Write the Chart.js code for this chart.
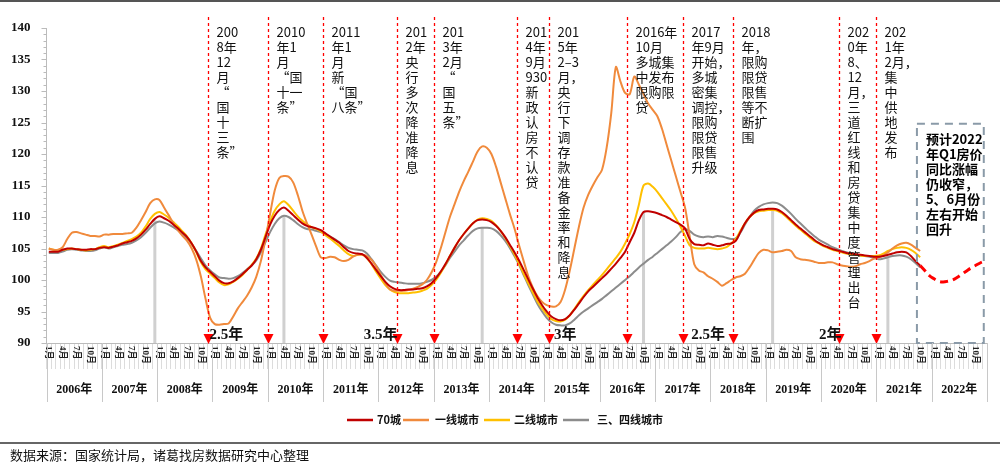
<!DOCTYPE html>
<html><head><meta charset="utf-8">
<script src="https://cdn.jsdelivr.net/npm/chart.js@4.4.1/dist/chart.umd.min.js"></script>
<style>html,body{margin:0;padding:0;background:#fff}canvas{display:block}</style>
</head><body>
<canvas id="c" width="1000" height="469"></canvas>
<script>
const years=[2006,2007,2008,2009,2010,2011,2012,2013,2014,2015,2016,2017,2018,2019,2020,2021,2022];
const yTicks=[90,95,100,105,110,115,120,125,130,135,140];
const monthTicks=[1,4,7,10];
const s70=[
104.5,104.5,104.5,104.8,105,105,104.9,104.8,104.8,104.9,104.9,105.1,
105.2,105.1,105.3,105.5,105.8,106,106.2,106.6,107.2,108,108.9,109.7,
110.1,109.8,109.4,108.8,108.2,107.5,106.8,105.8,104.5,103,102,101.3,
100.6,99.9,99.5,99.5,99.8,100.3,100.9,101.6,102.3,103.3,104.8,106.8,
108.8,110.2,111.1,111.5,111,110.3,109.6,109,108.6,108.4,108.2,107.9,
107.4,106.9,106.4,105.9,105.2,104.6,104.3,104.2,104.1,103.5,102.6,101.6,
100.6,99.7,99,98.6,98.4,98.4,98.5,98.5,98.6,98.7,99,99.5,
100.3,101.3,102.5,103.8,105.1,106.3,107.3,108.2,109,109.5,109.6,109.5,
109.2,108.6,107.8,106.8,105.6,104.4,103.1,101.6,100.1,98.6,97.2,96,
95,94.2,93.8,93.6,93.8,94.4,95.3,96.3,97.3,98.2,98.9,99.6,
100.3,101,101.8,102.6,103.5,104.5,106,107.5,109.5,110.8,110.9,110.8,
110.6,110.3,110,109.6,109.2,108.8,108.2,106.5,105.7,105.6,105.5,105.8,
105.6,105.4,105.5,105.7,105.8,106.2,107.6,109,110,110.7,111.1,111.2,
111.3,111.3,111.2,110.8,110.2,109.5,108.8,108.2,107.6,107,106.4,105.9,
105.5,105.2,104.9,104.7,104.5,104.3,104.2,104.1,104,103.9,103.8,103.7,
103.7,103.8,104,104.2,104.4,104.5,104.4,103.8,103,102.3];
const sTier1=[
105,104.8,104.8,105.2,106.5,107.5,107.6,107.4,107.2,107,107,106.9,
107.2,107.2,107.3,107.3,107.3,107.4,107.5,108.3,109.5,110.8,112.2,112.8,
112.7,111.5,110.3,109,107.9,107,106.2,105,103.2,100.5,97,94,
93,92.9,93,93.1,94.2,95.5,96.5,97.5,98.8,100.5,103,106.5,
110.5,114.2,116.2,116.5,116.4,115.5,113.5,111,109,107.2,105.3,103.6,
103.5,103.7,103.6,103.2,103,103.2,103.7,104,104,103.8,103.2,102.2,
100.8,99.5,98.5,98.3,98.3,98.3,98.4,98.6,98.9,99.3,100,101.2,
102.8,105,107.5,110,112,114,115.7,117.2,118.8,120.4,121.2,121,
120,118,115.5,113,110.5,108.2,105.5,103,100.6,98.8,97.4,96.5,
96,95.8,95.8,96.5,98.5,101.5,105,108.5,111.5,113.5,115,116.3,
117.5,121,126.5,133.8,131.5,129.7,129.5,132.3,131,129.5,128,127,
126,124,121.5,119,116.5,114,111.5,107,102.5,101.5,101.2,100.6,
100.2,99.7,99.1,99.5,100,100.4,100.6,101,102,103.2,104.3,104.8,
104.7,104.4,104.5,104.6,104.8,104.6,103.6,103.3,103.2,103.1,102.9,102.7,
102.7,102.8,102.8,102.5,102.3,102.2,102.1,102.2,102.5,102.7,103,103.4,
103.6,103.9,104.4,105,105.5,105.8,105.9,105.6,105.1,104.6];
const sTier2=[
105,104.8,104.7,104.8,104.9,105,104.9,104.8,104.7,104.8,104.9,105.2,
105.4,105.2,105.4,105.6,105.9,106.2,106.5,106.9,107.5,108.5,109.7,110.5,
110.8,110.4,109.9,109.2,108.5,107.7,106.9,105.8,104.4,102.8,101.7,101,
100.3,99.6,99.2,99.3,99.7,100.2,100.8,101.6,102.4,103.4,105,107.2,
109.3,111,112,112.5,111.9,111,110.1,109.4,108.8,108.4,108.1,107.7,
107.1,106.6,106,105.4,104.7,104.1,103.8,104,104,103.5,102.5,101.3,
100.2,99.2,98.5,98.1,97.9,97.9,97.9,98,98.1,98.3,98.6,99.2,
100,101.1,102.4,103.8,105.1,106.3,107.3,108.2,109,109.6,109.8,109.7,
109.4,108.7,107.8,106.7,105.4,104.1,102.6,101,99.5,98,96.6,95.5,
94.5,93.8,93.5,93.4,93.7,94.4,95.4,96.5,97.5,98.4,99.2,100,
100.8,101.7,102.6,103.5,104.5,105.8,107.3,109.2,112,115,115.3,114.8,
114,113,112,111,109.8,108.5,107,105.5,105.1,105,105,105.1,
105,104.9,105,105.2,105.8,106.5,107.8,109,110,110.6,110.9,111,
111.1,111.1,111,110.6,110,109.3,108.6,108,107.4,106.8,106.2,105.8,
105.4,105.1,104.8,104.6,104.4,104.2,104.1,104,103.9,103.8,103.8,103.8,
103.9,104.2,104.6,104.9,105.1,105.2,105.1,104.8,104.3,103.6];
const sTier34=[
104.3,104.3,104.3,104.5,104.8,104.9,104.8,104.7,104.6,104.6,104.7,105,
105.2,105,105.2,105.4,105.6,105.7,105.9,106.3,106.8,107.5,108.3,109,
109.3,109.1,108.8,108.4,107.9,107.3,106.6,105.7,104.6,103.4,102.3,101.5,
100.9,100.4,100.3,100.2,100.3,100.6,101.1,101.7,102.3,103.1,104.4,106,
107.6,108.9,109.8,110.2,110,109.5,108.9,108.4,108.1,108,107.8,107.6,
107.3,106.9,106.5,106,105.5,105.1,104.9,104.8,104.7,104.2,103.3,102.3,
101.3,100.5,99.9,99.7,99.6,99.5,99.4,99.4,99.4,99.5,99.7,100,
100.5,101.3,102.3,103.5,104.5,105.5,106.3,107.1,107.8,108.2,108.3,108.3,
108.2,107.8,107.1,106.2,105.1,103.8,102.4,100.8,99.2,97.7,96.2,95,
94,93.3,92.9,92.8,92.8,93.1,93.7,94.4,95,95.5,96,96.5,
97,97.6,98.2,98.8,99.4,100,100.6,101.3,102,102.6,103.2,103.7,
104.3,104.9,105.5,106.1,106.8,107.6,108.1,107.8,107.2,106.9,106.8,106.9,
106.8,107,106.9,106.7,106.5,106.6,107.5,108.8,110,111,111.6,112,
112.2,112.3,112.2,111.8,111.2,110.5,109.7,109,108.3,107.6,107,106.4,
106,105.6,105.2,104.9,104.6,104.4,104.2,104,103.9,103.8,103.7,103.5,
103.3,103.4,103.6,103.8,103.9,103.9,103.7,103.3,102.7,102];
const forecast=[102.3,101.5,100.7,100.2,99.8,99.7,99.8,100,100.4,100.9,101.4,101.9,102.3,102.7,103.0];
const forecastStart=189;
const seriesNames=['70城','一线城市','二线城市','三、四线城市'];
const seriesColors=['#c00000','#f08a3c','#ffc000','#8c8c8c'];
const eventIdx=[34.5,47.5,59.5,75.5,83.5,101.5,108.5,125.5,137.5,148.5,171.5,179.5];
const eventText=[
["200","8年","12","月","“","国","十","三","条”"],
["2010","年1","月","“国","十一","条”"],
["2011","年1","月","新","“国","八条”"],
["201","2年","央","行","多","次","降","准","降","息"],
["201","3年","2月","“","国","五","条”"],
["201","4年","9月","930","新","政","认","房","不","认","贷"],
["201","5年","2–3","月，","央","行","下","调","存","款","准","备","金","率","和","降","息"],
["2016年","10月","多城集","中发布","限购限","贷"],
["2017","年9月","开始，","多城","密集","调控，","限购","限贷","限售","升级"],
["2018","年，","限购","限贷","限售","等不","断扩","围"],
["202","0年","8、","12","月，","三","道","红","线","和","房","贷","集","中","度","管","理","出","台"],
["202","1年","2月，","集","中","供","地","发","布"]];
const peakIdx=[23,51,94,129,157,182];
const peakVal=[109.5,110.2,108.3,110.8,111.4,103.9];
const cycleIdx=[38.5,72,112,143,169.5];
const cycleText=['2.5年','3.5年','3年','2.5年','2年'];
const forecastNote=["预计2022","年Q1房价","同比涨幅","仍收窄，","5、6月份","左右开始","回升"];

const labels=[];years.forEach(y=>{for(let m=1;m<=12;m++)labels.push(y+'-'+m);});
const fc=new Array(forecastStart).fill(null).concat(forecast);
const allSeries=[s70,sTier1,sTier2,sTier34];
const datasets=allSeries.map((d,i)=>({label:seriesNames[i],data:d,borderColor:seriesColors[i],borderWidth:2,pointRadius:0,tension:0.3,fill:false,order:i}));
datasets.push({label:'预测',data:fc,borderColor:'#ff0000',borderWidth:3,borderDash:[8,5],pointRadius:0,tension:0.4,fill:false,order:0});

const overlay={id:'overlay',
beforeDatasetsDraw(ch){const c=ch.ctx,x=ch.scales.x,y=ch.scales.y;
  c.save();c.strokeStyle='#d0d0d0';c.lineWidth=3;
  peakIdx.forEach((p,i)=>{const px=x.getPixelForValue(p);c.beginPath();c.moveTo(px,y.bottom);c.lineTo(px,y.getPixelForValue(peakVal[i]));c.stroke();});
  c.restore();},
afterDraw(ch){const c=ch.ctx,x=ch.scales.x,y=ch.scales.y,a=ch.chartArea;
  c.save();
  c.strokeStyle='#bbb';c.lineWidth=1;
  for(let v=90;v<=140;v++){const py=Math.round(y.getPixelForValue(v))+0.5;c.beginPath();c.moveTo(a.left-(v%5===0?5:3),py);c.lineTo(a.left,py);c.stroke();}
  // month labels
  c.fillStyle='#222';c.font='bold 9px "Liberation Serif","Noto Sans CJK SC"';c.textAlign='left';c.textBaseline='middle';
  labels.forEach((l,i)=>{const m=i%12+1;if(!monthTicks.includes(m))return;const px=x.getPixelForValue(i);
    c.save();c.translate(px,a.bottom+3);c.rotate(Math.PI/2);c.fillText(m+'月',0,0);c.restore();});
  eventIdx.forEach((e,i)=>{const px=Math.round(x.getPixelForValue(e))+0.5;
    c.strokeStyle='#ff0000';c.lineWidth=1.3;c.setLineDash([3,3]);
    c.beginPath();c.moveTo(px,17);c.lineTo(px,a.bottom-8);c.stroke();c.setLineDash([]);
    c.fillStyle='#ff0000';c.beginPath();c.moveTo(px-5,a.bottom-9);c.lineTo(px+5,a.bottom-9);c.lineTo(px,a.bottom+1);c.closePath();c.fill();
    c.fillStyle='#111';c.font='13px "Noto Sans CJK SC"';c.textAlign='left';c.textBaseline='alphabetic';
    eventText[i].forEach((t,k)=>c.fillText(t,px+8,37+k*15));
  });
  c.fillStyle='#111';c.font='bold 15px "Liberation Serif","Noto Sans CJK SC"';c.textAlign='center';c.textBaseline='alphabetic';
  cycleIdx.forEach((p,i)=>c.fillText(cycleText[i],x.getPixelForValue(p),y.getPixelForValue(90)-4));
  const bx1=x.getPixelForValue(188.3),bx2=x.getPixelForValue(202.8),by1=y.getPixelForValue(124.8),by2=y.getPixelForValue(90);
  c.strokeStyle='#8a9aa8';c.lineWidth=2;c.setLineDash([8,6]);c.strokeRect(bx1,by1,bx2-bx1,by2-by1);c.setLineDash([]);
  c.fillStyle='#000';c.font='bold 13px "Noto Sans CJK SC"';c.textAlign='left';
  forecastNote.forEach((t,k)=>c.fillText(t,bx1+9,by1+20+k*15));
  c.strokeStyle='#c8c8c8';c.lineWidth=1;c.fillStyle='#111';c.font='bold 12px "Liberation Serif","Noto Sans CJK SC"';c.textAlign='center';
  years.forEach((yr,i)=>{const l=x.getPixelForValue(i*12-0.5),r=x.getPixelForValue(i*12+11.5);
    c.beginPath();c.moveTo(Math.round(l)+0.5,a.bottom);c.lineTo(Math.round(l)+0.5,402);c.stroke();
    c.fillText(yr+'年',(l+r)/2,393);});
  const le=x.getPixelForValue(203.5);c.beginPath();c.moveTo(Math.round(le)+0.5,a.bottom);c.lineTo(Math.round(le)+0.5,402);c.stroke();
  const lg=[[347,377],[403,435],[484,514],[563,597]];
  c.font='bold 11px "Noto Sans CJK SC"';c.textAlign='left';c.textBaseline='middle';
  lg.forEach((p,i)=>{c.strokeStyle=seriesColors[i];c.lineWidth=2.5;c.beginPath();c.moveTo(p[0],420);c.lineTo(p[0]+26,420);c.stroke();c.fillStyle='#111';c.fillText(seriesNames[i],p[1],420);});
  c.strokeStyle='#555';c.lineWidth=2;c.beginPath();c.moveTo(0,1);c.lineTo(1000,1);c.stroke();
  c.strokeStyle='#666';c.beginPath();c.moveTo(0,443);c.lineTo(1000,443);c.stroke();
  c.fillStyle='#111';c.font='13px "Noto Sans CJK SC"';c.textBaseline='middle';c.fillText('数据来源：国家统计局，诸葛找房数据研究中心整理',10,455);
  c.restore();}};

new Chart(document.getElementById('c'),{type:'line',data:{labels,datasets},plugins:[overlay],
options:{responsive:false,devicePixelRatio:1,animation:false,
 layout:{padding:{top:28,right:13,bottom:100,left:3}},
 plugins:{legend:{display:false},tooltip:{enabled:false}},
 scales:{
  x:{offset:true,grid:{display:true,drawOnChartArea:false,offset:true,color:'#dcdcdc',tickLength:26},border:{color:'#bbb'},
     ticks:{display:false,autoSkip:false}},
  y:{min:90,max:140,afterBuildTicks:s=>{s.ticks=yTicks.map(v=>({value:v}));},grid:{display:false},border:{color:'#bbb'},
     ticks:{font:{size:13,weight:'bold',family:'"Liberation Serif"'},color:'#111',padding:8}}
 }}});
</script></body></html>
